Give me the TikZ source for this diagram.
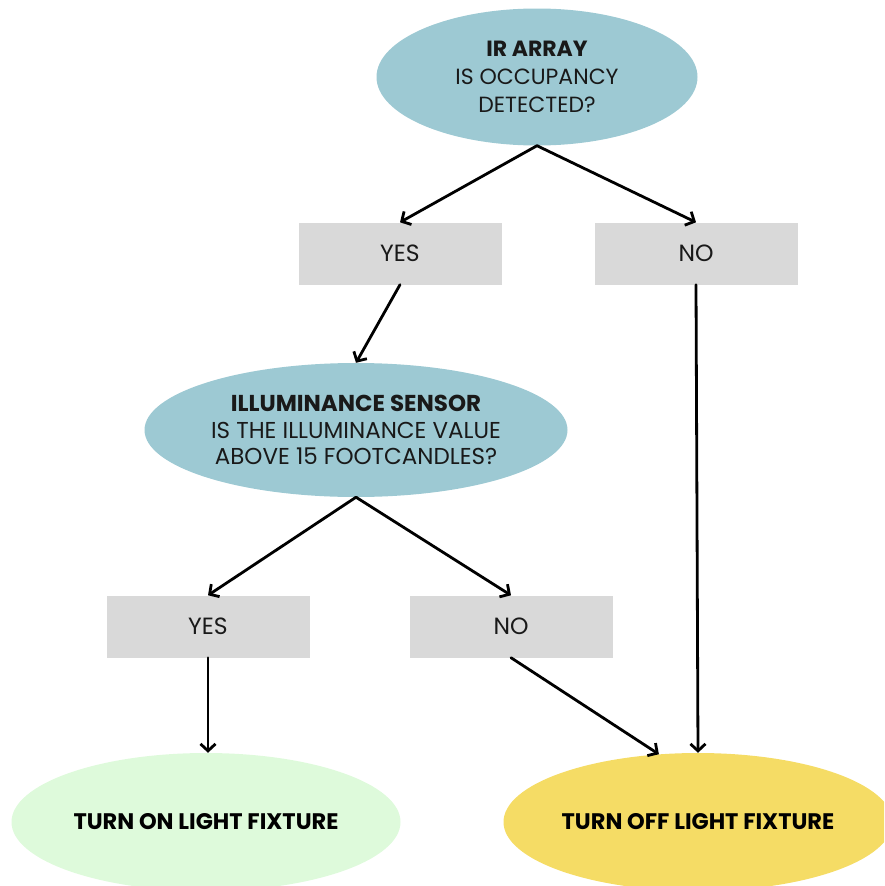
\documentclass[tikz,border=0pt]{standalone}
\usepackage{fontspec}
\setmainfont{Poppins}
\usetikzlibrary{shapes.geometric,arrows.meta}

\definecolor{sensorblue}{HTML}{9DC9D3}
\definecolor{answergray}{HTML}{D9D9D9}
\definecolor{ongreen}{HTML}{DEFADB}
\definecolor{offyellow}{HTML}{F5DC65}

\begin{document}
\begin{tikzpicture}[x=1pt,y=-1pt,
    question/.style={ellipse,fill=sensorblue,inner sep=0pt,align=center,text=black!90},
    answer/.style={rectangle,fill=answergray,minimum width=203pt,minimum height=62pt,inner sep=0pt,text=black!90,font=\fontsize{23.5}{26}\selectfont},
    result/.style={ellipse,minimum width=389pt,minimum height=138pt,inner sep=0pt,text=black,font=\bfseries\fontsize{22.5}{26}\selectfont},
    flow/.style={-{Straight Barb[length=7pt,width=15pt]},line width=2.8pt,line cap=round}]
    \useasboundingbox (0,0) rectangle (884,886);
    \clip (0,0) rectangle (884,886);
    % questions
    \node[question,minimum width=321pt,minimum height=137pt,font=\fontsize{22}{28}\selectfont] (ir) at (537,77) {\textbf{IR ARRAY}\\IS OCCUPANCY\\DETECTED?};
    \node[question,minimum width=423pt,minimum height=134pt,font=\fontsize{23}{26.5}\selectfont] (lux) at (356,430) {\textbf{ILLUMINANCE SENSOR}\\IS THE ILLUMINANCE VALUE\\ABOVE 15 FOOTCANDLES?};
    % answers
    \node[answer] (yesA) at (400,253.5) {YES};
    \node[answer] (noA) at (696,253.5) {NO};
    \node[answer] (yesB) at (208,626.5) {YES};
    \node[answer] (noB) at (511,626.5) {NO};
    % outcomes
    \node[result,fill=ongreen] (on) at (206,822) {TURN ON LIGHT FIXTURE};
    \node[result,fill=offyellow] (off) at (698,822) {TURN OFF LIGHT FIXTURE};
    % arrows
    \draw[flow] (ir.south) -- (yesA.north);
    \draw[flow] (ir.south) -- (noA.north);
    \draw[flow] (yesA.south) -- (lux.north);
    \draw[flow] (noA.south) -- (off.north);
    \draw[flow] (lux.south) -- (yesB.north);
    \draw[flow] (lux.south) -- (noB.north);
    \draw[flow] (yesB.south) -- (yesB.south |- on.north);
    \draw[flow] (noB.south) -- (off.120);
\end{tikzpicture}
\end{document}
